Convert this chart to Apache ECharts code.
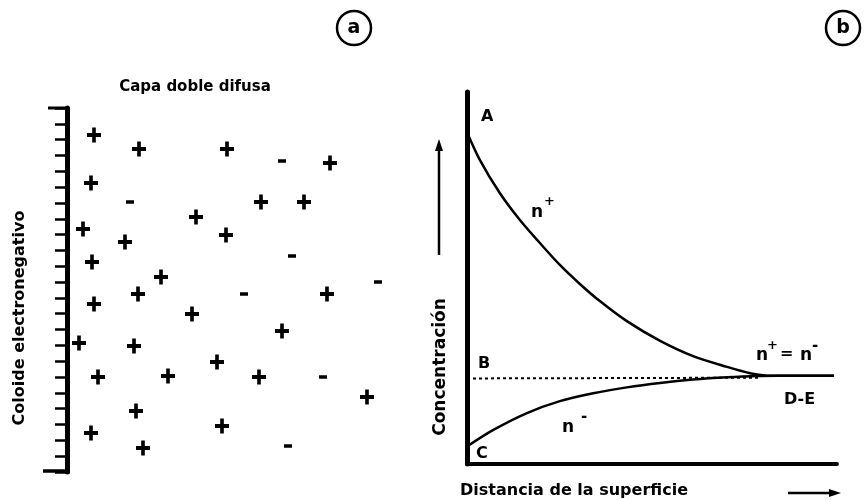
<!DOCTYPE html>
<html>
<head>
<meta charset="utf-8">
<script src="https://cdn.jsdelivr.net/npm/echarts@6/dist/echarts.min.js"></script>
<style>html,body{margin:0;padding:0;background:#fff}#c{width:865px;height:500px}</style>
</head>
<body>
<div id="c"></div>
<script>
// Panel (a): ion positions (distance from colloid wall, height above base)
const plusIons = [[27,337],[72,323],[160,323],[263,309],[24,289],[194,270],[237,270],[129,255],[16,243],[159,237],[58,230],[25,210],[94,195],[71,178],[260,178],[27,168],[125,158],[215,141],[12,129],[67,126],[150,110],[31,95],[101,96],[192,95],[300,75],[69,61],[155,46],[24,39],[76,24]];
const minusIons = [[215,311],[63,270],[225,216],[311,190],[177,178],[256,95],[221,26]];
const wallTicks = 23; // tick divisions along colloid surface

// Panel (b): concentration vs distance
const nPlus = [[0,89.2],[3.5,81.7],[8.9,72.8],[14.3,65.6],[19.7,59.4],[25.1,53.5],[30.5,48.4],[35.9,43.8],[43.2,38.4],[52.2,33.1],[61.1,29.0],[70.3,26.1],[76.5,24.4],[80.5,23.8],[84,23.7],[99.2,23.7]];
const nMinus = [[0,4.7],[7.0,9.1],[16.2,13.7],[25.1,16.9],[34.1,19.0],[43.2,20.6],[52.2,21.8],[61.1,22.7],[70.3,23.3],[79.2,23.65],[84,23.7],[99.2,23.7]];
const bulkLine = [[0,23.0],[79,23.2]];

const FONT = 'DejaVu Sans';
const PLUS = 'path://M3.7,0H6.3V3.7H10V6.3H6.3V10H3.7V6.3H0V3.7H3.7Z';

const chart = echarts.init(document.getElementById('c'), null, {renderer:'canvas'});

function txt(x, y, s, size, opts) {
  return Object.assign({
    type:'text', x:x, y:y,
    style:{text:s, fill:'#000', font:(opts&&opts.weight||'bold')+' '+size+'px "'+FONT+'"', textAlign:(opts&&opts.align)||'left', textVerticalAlign:'middle'}
  }, opts && opts.extra || {});
}

chart.setOption({
  backgroundColor:'#fff',
  animation:false,
  grid:[
    {left:67, top:108, width:333, height:364},
    {left:467, top:92, right:28, bottom:36}
  ],
  xAxis:[
    {gridIndex:0, type:'value', min:0, max:333, show:false},
    {gridIndex:1, type:'value', min:0, max:100, axisLine:{lineStyle:{color:'#000', width:4}}, axisTick:{show:false}, axisLabel:{show:false}, splitLine:{show:false}}
  ],
  yAxis:[
    {gridIndex:0, type:'value', min:0, max:364, show:false},
    {gridIndex:0, type:'value', min:0, max:wallTicks, interval:1, position:'left', axisLine:{show:true, lineStyle:{color:'#000', width:5}}, axisTick:{show:true, length:12, lineStyle:{color:'#000', width:2.5}}, axisLabel:{show:false}, splitLine:{show:false}},
    {gridIndex:1, type:'value', min:0, max:100, axisLine:{show:true, lineStyle:{color:'#000', width:5}}, axisTick:{show:false}, axisLabel:{show:false}, splitLine:{show:false}}
  ],
  series:[
    {type:'scatter', xAxisIndex:0, yAxisIndex:0, data:plusIons, symbol:PLUS, symbolSize:[14,15], itemStyle:{color:'#000', opacity:1}},
    {type:'scatter', xAxisIndex:0, yAxisIndex:0, data:minusIons, symbol:'rect', symbolSize:[8,3.5], itemStyle:{color:'#000', opacity:1}},
    {type:'line', xAxisIndex:1, yAxisIndex:2, data:bulkLine, showSymbol:false, lineStyle:{color:'#000', width:2, type:[3,3]}},
    {type:'line', xAxisIndex:1, yAxisIndex:2, data:nPlus, smooth:0.3, showSymbol:false, lineStyle:{color:'#000', width:2.5}},
    {type:'line', xAxisIndex:1, yAxisIndex:2, data:nMinus, smooth:0.3, showSymbol:false, lineStyle:{color:'#000', width:2.5}}
  ],
  graphic:[
    {type:'circle', shape:{cx:354, cy:28, r:17}, style:{fill:'none', stroke:'#000', lineWidth:2.5}},
    txt(354, 28, 'a', 19, {align:'center'}),
    {type:'circle', shape:{cx:843, cy:28, r:17}, style:{fill:'none', stroke:'#000', lineWidth:2.5}},
    txt(843, 28, 'b', 19, {align:'center'}),
    txt(195, 87, 'Capa doble difusa', 15, {align:'center'}),
    txt(20, 318, 'Coloide electronegativo', 16, {align:'center', extra:{rotation:Math.PI/2}}),
    // left-wall cap and foot
    {type:'line', shape:{x1:48, y1:108, x2:68, y2:108}, style:{stroke:'#000', lineWidth:3}},
    {type:'line', shape:{x1:43, y1:471, x2:69, y2:471}, style:{stroke:'#000', lineWidth:3.5}},
    // panel b labels
    txt(481, 117, 'A', 16),
    txt(531, 213, 'n', 17),
    txt(544, 202, '+', 13),
    txt(478, 364, 'B', 16),
    txt(476, 454, 'C', 16),
    txt(562, 428, 'n', 17),
    txt(581, 417, '-', 15),
    txt(756, 356, 'n', 17),
    txt(767, 346, '+', 13),
    txt(780, 354, '=', 16),
    txt(800, 356, 'n', 17),
    txt(812, 346, '-', 15),
    txt(784, 400, 'D-E', 16),
    txt(441, 367, 'Concentración', 17, {align:'center', extra:{rotation:Math.PI/2}}),
    txt(460, 491, 'Distancia de la superficie', 16),
    // concentration arrow
    {type:'line', shape:{x1:439, y1:255, x2:439, y2:148}, style:{stroke:'#000', lineWidth:2.5}},
    {type:'polygon', shape:{points:[[439,139],[435,151],[443,151]]}, style:{fill:'#000'}},
    // distance arrow
    {type:'line', shape:{x1:788, y1:493, x2:830, y2:493}, style:{stroke:'#000', lineWidth:2.5}},
    {type:'polygon', shape:{points:[[841,493],[829,489],[829,497]]}, style:{fill:'#000'}}
  ]
});
</script>
</body>
</html>
